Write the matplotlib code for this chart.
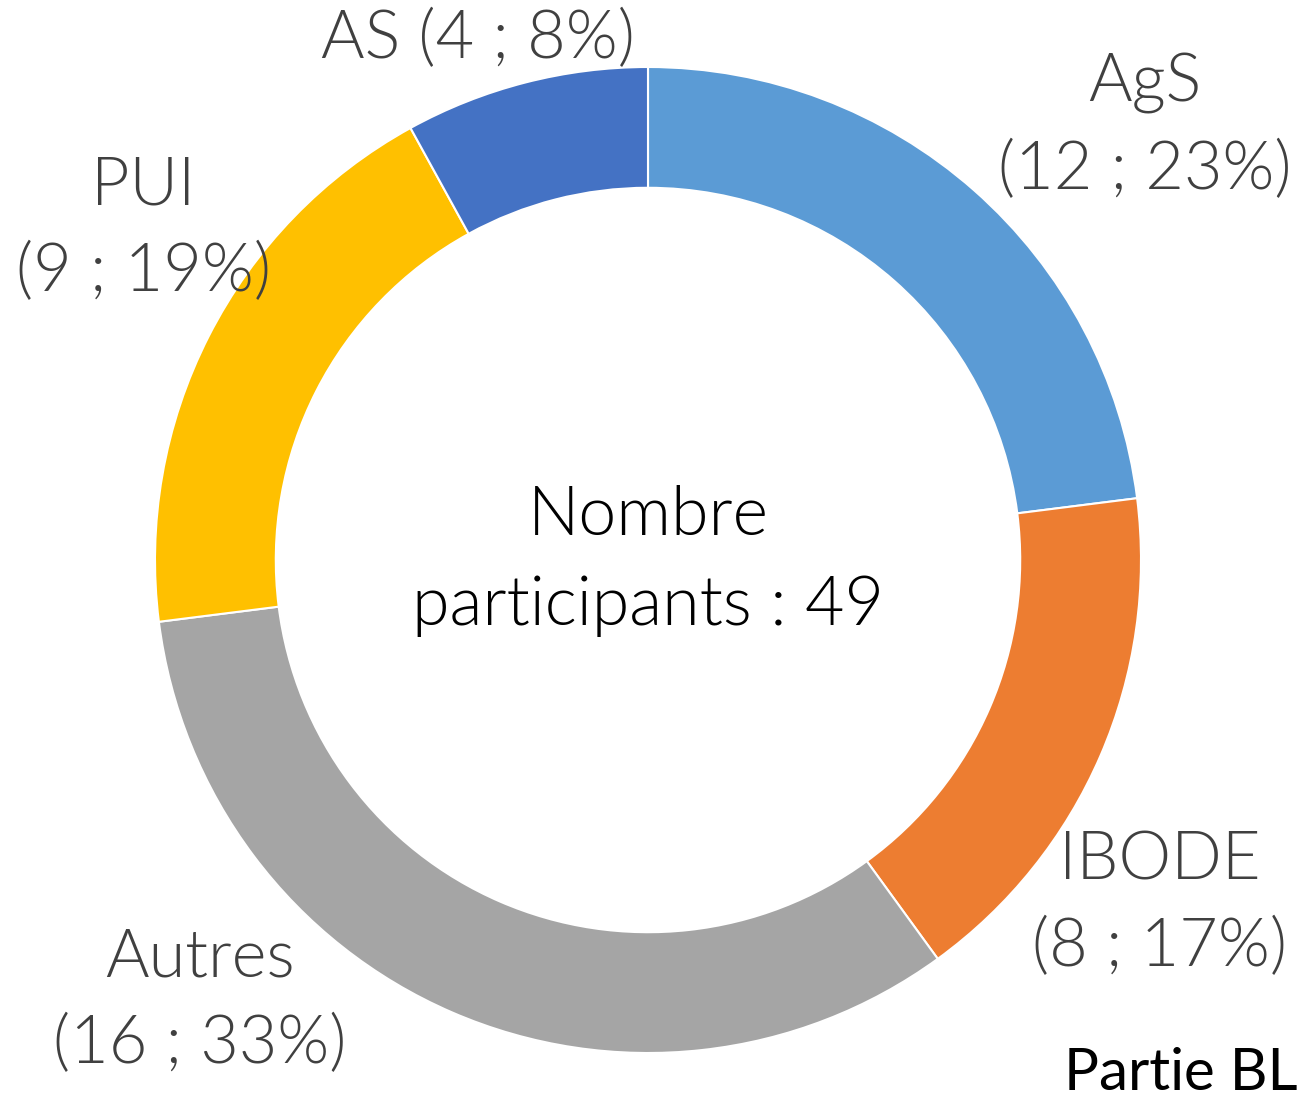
import matplotlib.pyplot as plt

plt.rcParams['font.family'] = ['Lato', 'DejaVu Sans']

categories = ['AgS', 'IBODE', 'Autres', 'PUI', 'AS']
counts = [12, 8, 16, 9, 4]
percents = [23, 17, 33, 19, 8]
colors = ['#5B9BD5', '#ED7D31', '#A5A5A5', '#FFC000', '#4472C4']
total = 49

fig = plt.figure(figsize=(12.99, 11.03), dpi=100)
ax = fig.add_axes([0, 0, 1, 1])
ax.pie(percents, colors=colors, startangle=90, counterclock=False,
       radius=1, wedgeprops=dict(width=0.245, edgecolor='white', linewidth=1.5))
ax.set_xlim(-648 / 493, (1299 - 648) / 493)
ax.set_ylim(-543 / 493, 560 / 493)
ax.set_aspect('equal')
ax.axis('off')

# label centres in pixels of the reference (x, y from top)
label_pos = {
    'AgS': (1145, 127, True),
    'IBODE': (1160, 905, True),
    'Autres': (200, 1002, True),
    'PUI': (143, 230, True),
    'AS': (478, 40, False),
}
for cat, n, p in zip(categories, counts, percents):
    px, py, two = label_pos[cat]
    x = (px - 648) / 493
    y = (560 - py) / 493
    sep = '\n' if two else ' '
    ax.text(x, y, f'{cat}{sep}({n} ; {p}%)', ha='center', va='center',
            fontsize=48, color='#404040', linespacing=1.55, fontweight=300)

ax.text(0, (560 - 561) / 493, f'Nombre\nparticipants : {total}', ha='center',
        va='center', fontsize=49, color='black', linespacing=1.55,
        fontweight=300)
ax.text((1297 - 648) / 493, (560 - 1073) / 493, 'Partie BL', ha='right',
        va='center', fontsize=42, color='black')

fig.savefig('out.png', dpi=100)
